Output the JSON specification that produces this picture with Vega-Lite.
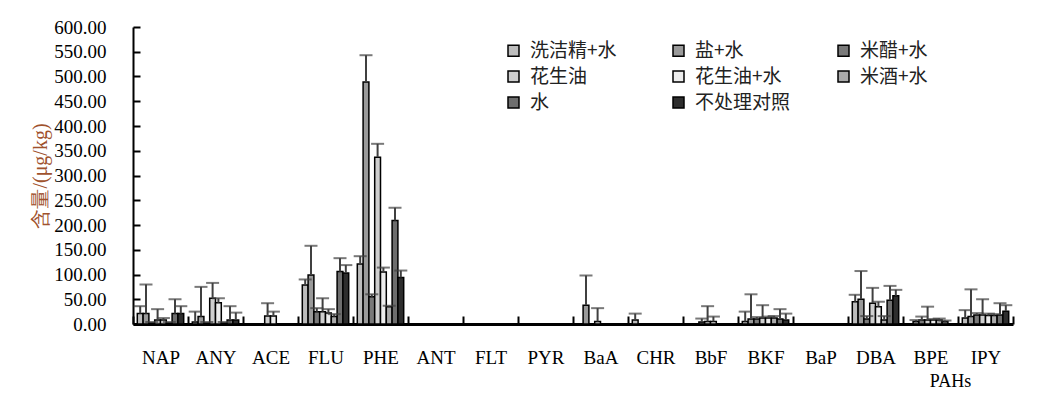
{
  "$schema": "https://vega.github.io/schema/vega-lite/v6.json",
  "width": 880,
  "height": 297,
  "autosize": {"type": "none"},
  "padding": {"left": 133, "top": 27, "right": 35, "bottom": 72},
  "background": "white",
  "config": {
    "view": {"stroke": null},
    "axis": {"grid": false, "labelFont": "Liberation Serif", "labelColor": "black", "domainColor": "black", "tickColor": "black", "labelOverlap": false}
  },
  "data": {
    "values": [
      {"c": "NAP", "s": "洗洁精+水", "v": 21, "e": 36},
      {"c": "NAP", "s": "盐+水", "v": 21, "e": 80},
      {"c": "NAP", "s": "米醋+水", "v": 2, "e": 4},
      {"c": "NAP", "s": "花生油", "v": 8, "e": 30},
      {"c": "NAP", "s": "花生油+水", "v": 8, "e": 12},
      {"c": "NAP", "s": "米酒+水", "v": 2, "e": 4},
      {"c": "NAP", "s": "水", "v": 21, "e": 50},
      {"c": "NAP", "s": "不处理对照", "v": 21, "e": 36},
      {"c": "ANY", "s": "洗洁精+水", "v": 4, "e": 25},
      {"c": "ANY", "s": "盐+水", "v": 15, "e": 75},
      {"c": "ANY", "s": "米醋+水", "v": 2, "e": 4},
      {"c": "ANY", "s": "花生油", "v": 52, "e": 83},
      {"c": "ANY", "s": "花生油+水", "v": 43, "e": 52},
      {"c": "ANY", "s": "米酒+水", "v": 2, "e": 4},
      {"c": "ANY", "s": "水", "v": 8, "e": 36},
      {"c": "ANY", "s": "不处理对照", "v": 8, "e": 23},
      {"c": "ACE", "s": "花生油", "v": 16, "e": 42},
      {"c": "ACE", "s": "花生油+水", "v": 16, "e": 25},
      {"c": "FLU", "s": "洗洁精+水", "v": 79, "e": 90},
      {"c": "FLU", "s": "盐+水", "v": 99, "e": 158},
      {"c": "FLU", "s": "米醋+水", "v": 25, "e": 32},
      {"c": "FLU", "s": "花生油", "v": 25, "e": 52},
      {"c": "FLU", "s": "花生油+水", "v": 22, "e": 30},
      {"c": "FLU", "s": "米酒+水", "v": 15, "e": 20},
      {"c": "FLU", "s": "水", "v": 106, "e": 133},
      {"c": "FLU", "s": "不处理对照", "v": 103, "e": 119},
      {"c": "PHE", "s": "洗洁精+水", "v": 121, "e": 137},
      {"c": "PHE", "s": "盐+水", "v": 489, "e": 543},
      {"c": "PHE", "s": "米醋+水", "v": 55, "e": 60},
      {"c": "PHE", "s": "花生油", "v": 337, "e": 364},
      {"c": "PHE", "s": "花生油+水", "v": 105, "e": 114},
      {"c": "PHE", "s": "米酒+水", "v": 35, "e": 37},
      {"c": "PHE", "s": "水", "v": 209, "e": 235},
      {"c": "PHE", "s": "不处理对照", "v": 94, "e": 108},
      {"c": "BaA", "s": "盐+水", "v": 38, "e": 98},
      {"c": "BaA", "s": "花生油", "v": 5, "e": 32},
      {"c": "CHR", "s": "洗洁精+水", "v": 8, "e": 21},
      {"c": "BbF", "s": "米醋+水", "v": 4, "e": 11},
      {"c": "BbF", "s": "花生油", "v": 5, "e": 36},
      {"c": "BbF", "s": "花生油+水", "v": 5, "e": 15},
      {"c": "BKF", "s": "洗洁精+水", "v": 5, "e": 25},
      {"c": "BKF", "s": "盐+水", "v": 10, "e": 60},
      {"c": "BKF", "s": "米醋+水", "v": 10, "e": 14},
      {"c": "BKF", "s": "花生油", "v": 12, "e": 38},
      {"c": "BKF", "s": "花生油+水", "v": 12, "e": 15},
      {"c": "BKF", "s": "米酒+水", "v": 12, "e": 16},
      {"c": "BKF", "s": "水", "v": 10, "e": 30},
      {"c": "BKF", "s": "不处理对照", "v": 8, "e": 21},
      {"c": "DBA", "s": "洗洁精+水", "v": 45, "e": 59},
      {"c": "DBA", "s": "盐+水", "v": 50, "e": 107},
      {"c": "DBA", "s": "米醋+水", "v": 10, "e": 16},
      {"c": "DBA", "s": "花生油", "v": 42, "e": 73},
      {"c": "DBA", "s": "花生油+水", "v": 35, "e": 45},
      {"c": "DBA", "s": "米酒+水", "v": 8, "e": 16},
      {"c": "DBA", "s": "水", "v": 48, "e": 77},
      {"c": "DBA", "s": "不处理对照", "v": 57, "e": 69},
      {"c": "BPE", "s": "盐+水", "v": 5, "e": 8},
      {"c": "BPE", "s": "米醋+水", "v": 8, "e": 15},
      {"c": "BPE", "s": "花生油", "v": 8, "e": 35},
      {"c": "BPE", "s": "花生油+水", "v": 8, "e": 10},
      {"c": "BPE", "s": "米酒+水", "v": 8, "e": 11},
      {"c": "BPE", "s": "水", "v": 5, "e": 7},
      {"c": "IPY", "s": "洗洁精+水", "v": 12, "e": 28},
      {"c": "IPY", "s": "盐+水", "v": 15, "e": 70},
      {"c": "IPY", "s": "米醋+水", "v": 18, "e": 22},
      {"c": "IPY", "s": "花生油", "v": 18, "e": 50},
      {"c": "IPY", "s": "花生油+水", "v": 17, "e": 21},
      {"c": "IPY", "s": "米酒+水", "v": 17, "e": 20},
      {"c": "IPY", "s": "水", "v": 18, "e": 42},
      {"c": "IPY", "s": "不处理对照", "v": 26, "e": 38}
    ]
  },
  "encoding": {
    "x": {
      "field": "c", "type": "nominal",
      "scale": {"domain": ["NAP","ANY","ACE","FLU","PHE","ANT","FLT","PYR","BaA","CHR","BbF","BKF","BaP","DBA","BPE","IPY"], "paddingInner": 0, "paddingOuter": 0},
      "axis": {"title": "PAHs", "titleFont": "Liberation Serif", "titleFontSize": 18, "titleFontWeight": "normal", "titleColor": "black", "titleX": 817, "titleAlign": "center", "titlePadding": 5, "labelAngle": 0, "labelFontSize": 19, "labelPadding": 32, "tickBand": "extent", "tickSize": -8, "tickWidth": 2, "domainWidth": 3}
    },
    "xOffset": {
      "field": "s", "type": "nominal",
      "scale": {"domain": ["洗洁精+水","盐+水","米醋+水","花生油","花生油+水","米酒+水","水","不处理对照"], "paddingInner": 0, "paddingOuter": 0.74}
    },
    "y": {
      "field": "v", "type": "quantitative",
      "scale": {"domain": [0, 600], "nice": false},
      "axis": {"values": [0,50,100,150,200,250,300,350,400,450,500,550,600], "labelOverlap": false, "labelFontSize": 19, "format": ".2f", "title": "含量/(μg/kg)", "titleFont": "Liberation Serif", "titleFontSize": 20, "titleFontWeight": "normal", "titleColor": "#a0522d", "titlePadding": 3, "tickSize": -7, "tickWidth": 2, "domainWidth": 2, "labelPadding": 34}
    }
  },
  "layer": [
    {
      "mark": {"type": "bar", "stroke": "black", "strokeWidth": 1.5},
      "encoding": {
        "fill": {
          "field": "s", "type": "nominal",
          "scale": {"domain": ["洗洁精+水","盐+水","米醋+水","花生油","花生油+水","米酒+水","水","不处理对照"], "range": ["#bdbdbd","#9a9a9a","#7a7a7a","#cfcfcf","#ededed","#ababab","#6e6e6e","#2e2e2e"]},
          "legend": {"title": null, "orient": "none", "direction": "horizontal", "legendX": 371, "legendY": 14, "columns": 3, "gridAlign": "all", "columnPadding": 43, "rowPadding": 6, "symbolType": "square", "symbolSize": 121, "symbolStrokeColor": "black", "symbolStrokeWidth": 1.5, "labelFont": "Noto Sans CJK SC", "labelFontSize": 19, "labelColor": "#222", "labelOffset": 7}
        }
      }
    },
    {
      "mark": {"type": "rule", "color": "#404040", "strokeWidth": 2},
      "encoding": {
        "y2": {"field": "e"}
      }
    },
    {
      "mark": {"type": "tick", "color": "#404040", "thickness": 2, "size": 13},
      "encoding": {
        "y": {
          "field": "e", "type": "quantitative",
          "scale": {"domain": [0, 600], "nice": false},
          "axis": {"values": [0,50,100,150,200,250,300,350,400,450,500,550,600], "labelOverlap": false, "labelFontSize": 19, "format": ".2f", "title": "含量/(μg/kg)", "titleFont": "Liberation Serif", "titleFontSize": 20, "titleFontWeight": "normal", "titleColor": "#a0522d", "titlePadding": 3, "tickSize": -7, "tickWidth": 2, "domainWidth": 2, "labelPadding": 34}
        }
      }
    }
  ]
}
